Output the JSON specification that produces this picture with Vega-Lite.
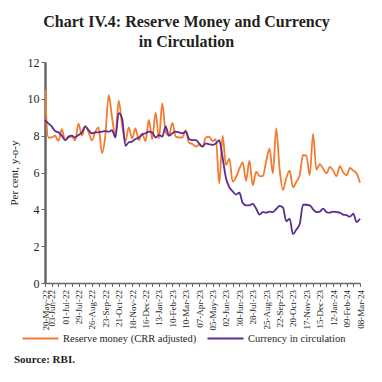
{
  "$schema": "https://vega.github.io/schema/vega-lite/v6.json",
  "background": "white",
  "padding": {"left": 8, "right": 22, "top": 14, "bottom": 8},
  "title": {
    "text": "Source: RBI.", "orient": "bottom", "anchor": "start", "frame": "bounds",
    "font": "Liberation Serif", "fontSize": 11, "fontWeight": "bold", "color": "#231F20", "offset": 10, "dx": 6
  },
  "data": {"values": [
    {"date": "2022-05-20", "rm": 10.5, "cic": 8.85},
    {"date": "2022-05-27", "rm": 7.9, "cic": 8.67},
    {"date": "2022-06-03", "rm": 7.9, "cic": 8.5},
    {"date": "2022-06-10", "rm": 8.0, "cic": 8.25},
    {"date": "2022-06-17", "rm": 7.7, "cic": 8.18},
    {"date": "2022-06-24", "rm": 8.35, "cic": 8.0},
    {"date": "2022-07-01", "rm": 7.75, "cic": 7.76},
    {"date": "2022-07-08", "rm": 7.9, "cic": 7.95},
    {"date": "2022-07-15", "rm": 7.95, "cic": 8.0},
    {"date": "2022-07-22", "rm": 7.75, "cic": 7.9},
    {"date": "2022-07-29", "rm": 8.65, "cic": 8.04},
    {"date": "2022-08-05", "rm": 8.0, "cic": 8.18},
    {"date": "2022-08-12", "rm": 8.5, "cic": 8.5},
    {"date": "2022-08-19", "rm": 8.2, "cic": 8.3},
    {"date": "2022-08-26", "rm": 7.75, "cic": 8.13},
    {"date": "2022-09-02", "rm": 8.2, "cic": 8.18},
    {"date": "2022-09-09", "rm": 8.45, "cic": 8.18},
    {"date": "2022-09-16", "rm": 7.05, "cic": 8.22},
    {"date": "2022-09-23", "rm": 8.0, "cic": 8.25},
    {"date": "2022-09-30", "rm": 10.2, "cic": 8.22},
    {"date": "2022-10-07", "rm": 9.0, "cic": 8.3},
    {"date": "2022-10-14", "rm": 8.0, "cic": 7.9},
    {"date": "2022-10-21", "rm": 9.9, "cic": 9.22},
    {"date": "2022-10-28", "rm": 8.6, "cic": 8.95},
    {"date": "2022-11-04", "rm": 7.7, "cic": 7.45},
    {"date": "2022-11-11", "rm": 8.45, "cic": 7.64},
    {"date": "2022-11-18", "rm": 7.85, "cic": 7.68},
    {"date": "2022-11-25", "rm": 8.4, "cic": 7.82},
    {"date": "2022-12-02", "rm": 7.75, "cic": 7.9},
    {"date": "2022-12-09", "rm": 8.1, "cic": 8.07},
    {"date": "2022-12-16", "rm": 7.7, "cic": 8.13},
    {"date": "2022-12-23", "rm": 8.85, "cic": 8.22},
    {"date": "2022-12-30", "rm": 7.8, "cic": 8.18},
    {"date": "2023-01-06", "rm": 9.25, "cic": 7.9},
    {"date": "2023-01-13", "rm": 7.85, "cic": 8.04},
    {"date": "2023-01-20", "rm": 9.75, "cic": 7.95},
    {"date": "2023-01-27", "rm": 8.2, "cic": 8.5},
    {"date": "2023-02-03", "rm": 8.0, "cic": 8.0},
    {"date": "2023-02-10", "rm": 8.7, "cic": 8.13},
    {"date": "2023-02-17", "rm": 7.95, "cic": 8.22},
    {"date": "2023-02-24", "rm": 7.9, "cic": 8.18},
    {"date": "2023-03-03", "rm": 7.9, "cic": 8.13},
    {"date": "2023-03-10", "rm": 8.3, "cic": 8.22},
    {"date": "2023-03-17", "rm": 7.6, "cic": 7.82},
    {"date": "2023-03-24", "rm": 7.55, "cic": 7.76},
    {"date": "2023-03-31", "rm": 7.4, "cic": 7.76},
    {"date": "2023-04-07", "rm": 7.5, "cic": 7.58},
    {"date": "2023-04-14", "rm": 7.4, "cic": 7.4},
    {"date": "2023-04-21", "rm": 7.9, "cic": 7.58},
    {"date": "2023-04-28", "rm": 7.95, "cic": 7.53},
    {"date": "2023-05-05", "rm": 7.7, "cic": 7.5},
    {"date": "2023-05-12", "rm": 7.8, "cic": 7.58},
    {"date": "2023-05-19", "rm": 5.4, "cic": 7.75},
    {"date": "2023-05-26", "rm": 8.0, "cic": 6.8},
    {"date": "2023-06-02", "rm": 6.4, "cic": 5.7},
    {"date": "2023-06-09", "rm": 6.75, "cic": 5.2},
    {"date": "2023-06-16", "rm": 5.5, "cic": 4.98},
    {"date": "2023-06-23", "rm": 5.75, "cic": 4.8},
    {"date": "2023-06-30", "rm": 6.2, "cic": 4.9},
    {"date": "2023-07-07", "rm": 6.55, "cic": 4.35},
    {"date": "2023-07-14", "rm": 5.55, "cic": 4.22},
    {"date": "2023-07-21", "rm": 6.65, "cic": 4.22},
    {"date": "2023-07-28", "rm": 5.3, "cic": 4.3},
    {"date": "2023-08-04", "rm": 6.05, "cic": 4.05},
    {"date": "2023-08-11", "rm": 5.8, "cic": 3.72},
    {"date": "2023-08-18", "rm": 5.8, "cic": 3.85},
    {"date": "2023-08-25", "rm": 6.6, "cic": 3.82},
    {"date": "2023-09-01", "rm": 7.3, "cic": 3.88},
    {"date": "2023-09-08", "rm": 5.95, "cic": 3.85},
    {"date": "2023-09-15", "rm": 8.4, "cic": 4.02},
    {"date": "2023-09-22", "rm": 6.2, "cic": 4.18},
    {"date": "2023-09-29", "rm": 5.05, "cic": 4.1},
    {"date": "2023-10-06", "rm": 5.7, "cic": 3.35},
    {"date": "2023-10-13", "rm": 6.1, "cic": 3.5},
    {"date": "2023-10-20", "rm": 5.2, "cic": 2.65},
    {"date": "2023-10-27", "rm": 5.5, "cic": 2.9},
    {"date": "2023-11-03", "rm": 5.85, "cic": 3.2},
    {"date": "2023-11-10", "rm": 6.95, "cic": 4.25},
    {"date": "2023-11-17", "rm": 6.9, "cic": 4.25},
    {"date": "2023-11-24", "rm": 5.85, "cic": 4.22},
    {"date": "2023-12-01", "rm": 8.1, "cic": 4.0},
    {"date": "2023-12-08", "rm": 6.15, "cic": 3.85},
    {"date": "2023-12-15", "rm": 6.45, "cic": 3.88},
    {"date": "2023-12-22", "rm": 6.2, "cic": 4.04},
    {"date": "2023-12-29", "rm": 5.95, "cic": 3.85},
    {"date": "2024-01-05", "rm": 6.3, "cic": 3.82},
    {"date": "2024-01-12", "rm": 6.1, "cic": 3.88},
    {"date": "2024-01-19", "rm": 5.8, "cic": 3.85},
    {"date": "2024-01-26", "rm": 6.35, "cic": 3.82},
    {"date": "2024-02-02", "rm": 6.0, "cic": 3.71},
    {"date": "2024-02-09", "rm": 5.85, "cic": 3.68},
    {"date": "2024-02-16", "rm": 6.25, "cic": 3.6},
    {"date": "2024-02-23", "rm": 6.1, "cic": 3.76},
    {"date": "2024-03-01", "rm": 5.95, "cic": 3.31},
    {"date": "2024-03-08", "rm": 5.45, "cic": 3.49}
  ]},
  "transform": [{"fold": ["rm", "cic"], "as": ["series", "value"]}],
  "vconcat": [{
    "width": 315,
    "height": 221,
    "title": {
      "text": ["Chart IV.4: Reserve Money and Currency", "in Circulation"],
      "font": "Liberation Serif", "fontSize": 16, "fontWeight": "bold", "color": "#231F20",
      "anchor": "middle", "frame": "bounds", "lineHeight": 20, "offset": 6
    },
    "mark": {"type": "line", "interpolate": "monotone", "strokeWidth": 1.8},
    "encoding": {
      "x": {
        "field": "date", "type": "temporal",
        "scale": {"type": "utc", "nice": false, "domain": [
          {"year": 2022, "month": 5, "date": 20, "utc": true},
          {"year": 2024, "month": 3, "date": 8, "utc": true}
        ]},
        "axis": {
          "title": null, "format": "%d-%b-%y", "labelAngle": -90,
          "labelExpr": "(round((datum.value - 1653004800000) / 1209600000) % 2 == 1 || round((datum.value - 1653004800000) / 86400000) == 0) ? datum.label : ''",
          "labelFontSize": 9, "labelPadding": 3, "tickSize": 3.5, "domainWidth": 1.5, "grid": false,
          "labelOverlap": false, "labelBound": false, "labelFlush": false,
          "values": [
            {"year": 2022, "month": 5, "date": 20, "utc": true},
            {"year": 2022, "month": 6, "date": 3, "utc": true},
            {"year": 2022, "month": 6, "date": 17, "utc": true},
            {"year": 2022, "month": 7, "date": 1, "utc": true},
            {"year": 2022, "month": 7, "date": 15, "utc": true},
            {"year": 2022, "month": 7, "date": 29, "utc": true},
            {"year": 2022, "month": 8, "date": 12, "utc": true},
            {"year": 2022, "month": 8, "date": 26, "utc": true},
            {"year": 2022, "month": 9, "date": 9, "utc": true},
            {"year": 2022, "month": 9, "date": 23, "utc": true},
            {"year": 2022, "month": 10, "date": 7, "utc": true},
            {"year": 2022, "month": 10, "date": 21, "utc": true},
            {"year": 2022, "month": 11, "date": 4, "utc": true},
            {"year": 2022, "month": 11, "date": 18, "utc": true},
            {"year": 2022, "month": 12, "date": 2, "utc": true},
            {"year": 2022, "month": 12, "date": 16, "utc": true},
            {"year": 2022, "month": 12, "date": 30, "utc": true},
            {"year": 2023, "month": 1, "date": 13, "utc": true},
            {"year": 2023, "month": 1, "date": 27, "utc": true},
            {"year": 2023, "month": 2, "date": 10, "utc": true},
            {"year": 2023, "month": 2, "date": 24, "utc": true},
            {"year": 2023, "month": 3, "date": 10, "utc": true},
            {"year": 2023, "month": 3, "date": 24, "utc": true},
            {"year": 2023, "month": 4, "date": 7, "utc": true},
            {"year": 2023, "month": 4, "date": 21, "utc": true},
            {"year": 2023, "month": 5, "date": 5, "utc": true},
            {"year": 2023, "month": 5, "date": 19, "utc": true},
            {"year": 2023, "month": 6, "date": 2, "utc": true},
            {"year": 2023, "month": 6, "date": 16, "utc": true},
            {"year": 2023, "month": 6, "date": 30, "utc": true},
            {"year": 2023, "month": 7, "date": 14, "utc": true},
            {"year": 2023, "month": 7, "date": 28, "utc": true},
            {"year": 2023, "month": 8, "date": 11, "utc": true},
            {"year": 2023, "month": 8, "date": 25, "utc": true},
            {"year": 2023, "month": 9, "date": 8, "utc": true},
            {"year": 2023, "month": 9, "date": 22, "utc": true},
            {"year": 2023, "month": 10, "date": 6, "utc": true},
            {"year": 2023, "month": 10, "date": 20, "utc": true},
            {"year": 2023, "month": 11, "date": 3, "utc": true},
            {"year": 2023, "month": 11, "date": 17, "utc": true},
            {"year": 2023, "month": 12, "date": 1, "utc": true},
            {"year": 2023, "month": 12, "date": 15, "utc": true},
            {"year": 2023, "month": 12, "date": 29, "utc": true},
            {"year": 2024, "month": 1, "date": 12, "utc": true},
            {"year": 2024, "month": 1, "date": 26, "utc": true},
            {"year": 2024, "month": 2, "date": 9, "utc": true},
            {"year": 2024, "month": 2, "date": 23, "utc": true},
            {"year": 2024, "month": 3, "date": 8, "utc": true}
          ]
        }
      },
      "y": {
        "field": "value", "type": "quantitative",
        "scale": {"domain": [0, 12], "nice": false},
        "axis": {
          "title": "Per cent, y-o-y", "values": [0, 2, 4, 6, 8, 10, 12], "grid": false,
          "labelFontSize": 12, "titleFontSize": 11, "titleFontWeight": "normal", "titlePadding": 8,
          "tickSize": 4, "domainWidth": 2.5
        }
      },
      "color": {
        "field": "series", "type": "nominal",
        "scale": {"domain": ["rm", "cic"], "range": ["#F37A2E", "#5C2D91"]},
        "legend": {
          "orient": "none", "legendX": -14, "legendY": 267, "direction": "horizontal", "title": null,
          "labelExpr": "datum.label == 'rm' ? 'Reserve money (CRR adjusted)' : 'Currency in circulation'",
          "symbolType": "M-2.25,0L2.25,0", "symbolSize": 256, "symbolStrokeWidth": 2.2,
          "labelFont": "Liberation Serif", "labelFontSize": 10.5, "labelColor": "#231F20",
          "labelOffset": 13, "columnPadding": 6
        }
      }
    }
  }],
  "config": {
    "font": "Liberation Serif",
    "view": {"stroke": null},
    "legend": {"labelFont": "Liberation Serif"},
    "axis": {
      "labelFont": "Liberation Serif", "titleFont": "Liberation Serif",
      "labelColor": "#231F20", "titleColor": "#231F20",
      "domainColor": "#666666", "tickColor": "#666666"
    }
  }
}
